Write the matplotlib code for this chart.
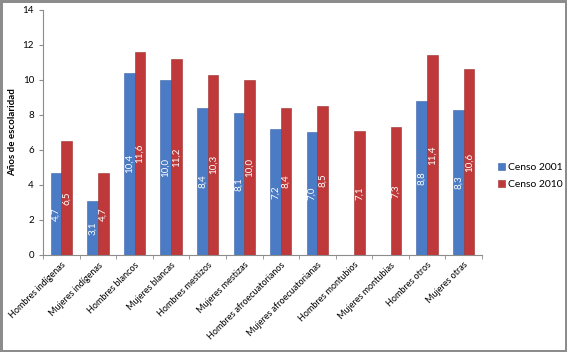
import numpy as np
import matplotlib.pyplot as plt

plt.rcParams['font.family'] = ['Lato', 'DejaVu Sans']

# Años de escolaridad por grupo
grupos = ['Hombres indígenas', 'Mujeres indígenas', 'Hombres blancos', 'Mujeres blancas',
          'Hombres mestizos', 'Mujeres mestizas', 'Hombres afroecuatorianos',
          'Mujeres afroecuatorianas', 'Hombres montubios', 'Mujeres montubias',
          'Hombres otros', 'Mujeres otras']
censo_2001 = [4.7, 3.1, 10.4, 10.0, 8.4, 8.1, 7.2, 7.0, np.nan, np.nan, 8.8, 8.3]
censo_2010 = [6.5, 4.7, 11.6, 11.2, 10.3, 10.0, 8.4, 8.5, 7.1, 7.3, 11.4, 10.6]

azul = '#4A7BC4'
rojo = '#C0393A'

fig = plt.figure(figsize=(5.67, 3.52), dpi=100, edgecolor='#8c8c8c', linewidth=2.5)
ax = fig.add_axes([0.076, 0.276, 0.774, 0.696])

x = np.arange(len(grupos))
w = 0.29
b1 = ax.bar(x - w / 2, censo_2001, w, color=azul, edgecolor='#3a64a8', linewidth=0.4)
b2 = ax.bar(x + w / 2, censo_2010, w, color=rojo, edgecolor='#9e2c2c', linewidth=0.4)

def etiquetas(barras, valores):
    for rect, v in zip(barras, valores):
        if np.isnan(v):
            continue
        ax.text(rect.get_x() + rect.get_width() / 2, v / 2, f'{v:.1f}'.replace('.', ','),
                rotation=90, ha='center', va='center', color='white', fontsize=7)

etiquetas(b1, censo_2001)
etiquetas(b2, censo_2010)

ax.set_xlim(-0.5, len(grupos) - 0.5)
ax.set_ylim(0, 14)
ax.set_yticks(range(0, 15, 2))
ax.set_ylabel('Años de escolaridad', fontsize=7, fontweight='bold')
ax.set_xticks(x)
ax.set_xticklabels(grupos, rotation=45, ha='right', rotation_mode='anchor', fontsize=6.5)
ax.tick_params(axis='x', which='major', length=0, pad=4)
ax.set_xticks(np.arange(-0.5, len(grupos)), minor=True)
ax.tick_params(axis='x', which='minor', length=3, color='#8c8c8c')
ax.tick_params(axis='y', labelsize=7, length=3, color='#8c8c8c')

for s in ['top', 'right']:
    ax.spines[s].set_visible(False)
for s in ['left', 'bottom']:
    ax.spines[s].set_color('#8c8c8c')
    ax.spines[s].set_linewidth(0.8)

ax.legend([b1, b2], ['Censo 2001', 'Censo 2010'], loc='center left',
          bbox_to_anchor=(0.865, 0.5), bbox_transform=fig.transFigure,
          frameon=False, fontsize=7.5, borderpad=0.2,
          handlelength=0.7, handleheight=0.7, handletextpad=0.3, labelspacing=0.8)

fig.savefig('out.png', dpi=100)
